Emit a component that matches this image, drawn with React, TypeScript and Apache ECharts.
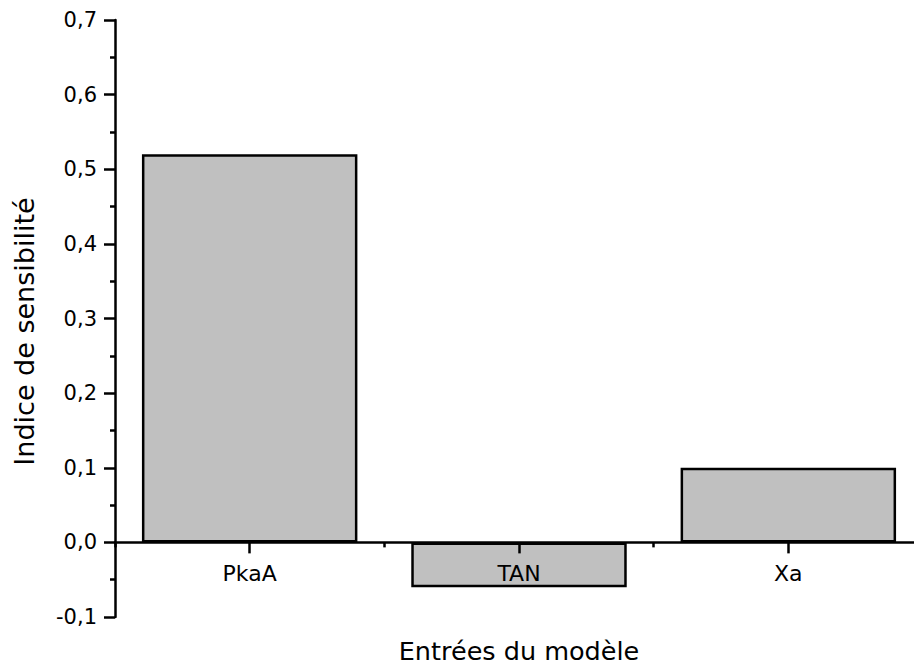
import React, { useEffect, useRef } from "react";
import * as echarts from "echarts";

const categories = ["PkaA", "TAN", "Xa"];
const values = [0.52, -0.06, 0.1];
const yMin = -0.1;
const yMax = 0.7;
const yStep = 0.1;

const GRID_TOP = 20;
const GRID_BOTTOM = 51;
const H = 668;

export default function App() {
  const ref = useRef<HTMLDivElement>(null);
  useEffect(() => {
    if (!ref.current) return;
    const chart = echarts.init(ref.current, undefined, { renderer: "svg" });
    const font = "'DejaVu Sans', sans-serif";
    const plotH = H - GRID_TOP - GRID_BOTTOM;
    const zeroOffset = -(plotH * (0 - yMin)) / (yMax - yMin);
    chart.setOption({
      animation: false,
      grid: {
        left: 115,
        right: -9,
        top: GRID_TOP,
        bottom: GRID_BOTTOM,
        containLabel: false,
        outerBoundsMode: "none",
      },
      xAxis: [
        {
          type: "category",
          data: categories,
          position: "bottom",
          offset: zeroOffset,
          z: 10,
          axisLine: { onZero: false, lineStyle: { color: "#000", width: 2.5 } },
          axisTick: { show: true, alignWithLabel: true, length: 11, inside: false, lineStyle: { color: "#000", width: 2.5 } },
          axisLabel: { color: "#000", fontSize: 22, fontFamily: font, margin: 20 },
          name: "Entrées du modèle",
          nameLocation: "middle",
          nameGap: 96,
          nameTextStyle: { color: "#000", fontSize: 25.5, fontFamily: font },
          splitLine: { show: false },
        },
        {
          type: "category",
          data: categories,
          position: "bottom",
          offset: zeroOffset,
          z: 10,
          axisLine: { show: false, onZero: false },
          axisTick: { show: true, alignWithLabel: false, length: 5, lineStyle: { color: "#000", width: 2.5 } },
          axisLabel: { show: false },
          splitLine: { show: false },
        },
      ],
      yAxis: [
        {
          type: "value",
          min: yMin,
          max: yMax,
          interval: yStep,
          z: 10,
          axisLine: { show: true, onZero: false, lineStyle: { color: "#000", width: 2.5 } },
          axisTick: { show: true, length: 11, lineStyle: { color: "#000", width: 2.5 } },
          minorTick: { show: true, splitNumber: 2, length: 5, lineStyle: { color: "#000", width: 2.5 } },
          axisLabel: {
            color: "#000",
            fontSize: 21,
            fontFamily: font,
            margin: 18,
            formatter: (v: number) => v.toFixed(1).replace(".", ","),
          },
          splitLine: { show: false },
          name: "Indice de sensibilité",
          nameLocation: "middle",
          nameGap: 77,
          nameTextStyle: { color: "#000", fontSize: 27, fontFamily: font, padding: [0, 26, 0, 0] },
        },
      ],
      series: [
        {
          type: "bar",
          data: values,
          xAxisIndex: 0,
          barWidth: "80%",
          itemStyle: { color: "#c0c0c0", borderColor: "#000", borderWidth: 2.5 },
        },
      ],
    });
    return () => chart.dispose();
  }, []);
  return <div ref={ref} style={{ width: 914, height: 668, position: "absolute", left: 0, top: 0 }} />;
}
